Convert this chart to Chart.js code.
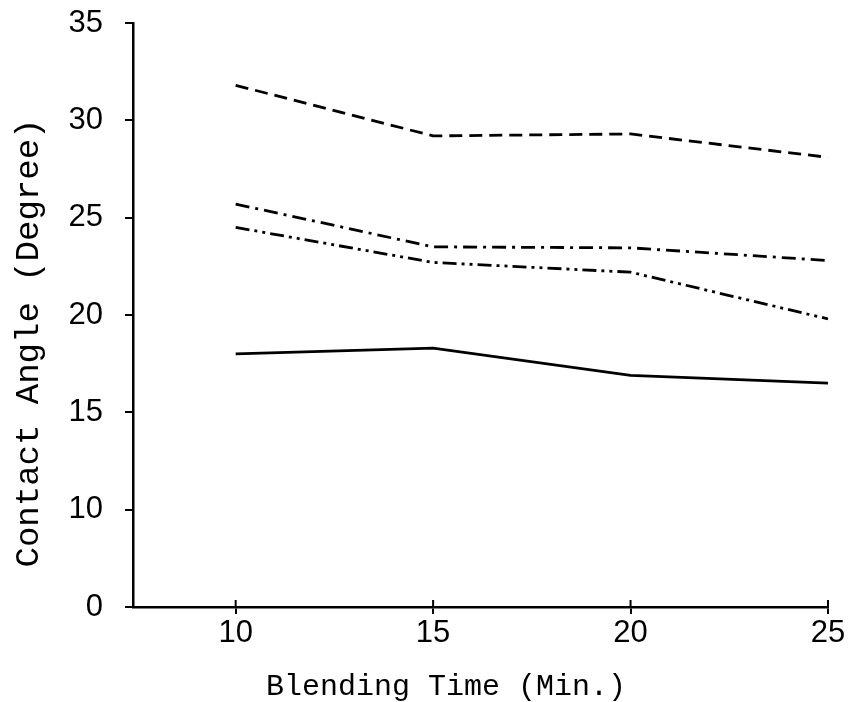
<!DOCTYPE html>
<html>
<head>
<meta charset="utf-8">
<script src="https://cdn.jsdelivr.net/npm/chart.js@4/dist/chart.umd.min.js"></script>
<style>
  html, body { margin: 0; padding: 0; background: #fff; }
  #wrap { width: 848px; height: 702px; }
</style>
</head>
<body>
<div id="wrap"><canvas id="chart"></canvas></div>
<script>
// blending time in minutes
const times = [10, 15, 20, 25];
const xTicks = [10, 15, 20, 25];

// contact angle readings, one array per curve
const dashedSeries = [31.8, 29.2, 29.3, 28.1];
const dashDotSeries = [25.7, 23.5, 23.45, 22.8];
const dashDotDotSeries = [24.5, 22.7, 22.2, 19.8];
const solidSeries = [18.0, 18.3, 16.9, 16.5];

// y axis is broken: the bottom tick (5) is labelled 0
const yMin = 5, yMax = 35;

const toPoints = (vals) => vals.map((v, i) => ({ x: times[i], y: v }));

const line = (label, vals, dash) => ({
  label,
  data: toPoints(vals),
  borderColor: '#000',
  borderWidth: 2.8,
  borderDash: dash,
  pointRadius: 0,
  fill: false,
  tension: 0,
});

// axis titles drawn at fixed spots, like the typed labels on the original,
// plus the short part of the x tick marks that pokes up above the axis
const axisTitles = {
  id: 'axisTitles',
  afterDraw(chart) {
    const ctx = chart.ctx;
    const xs = chart.scales.x;
    ctx.save();
    ctx.strokeStyle = '#000';
    ctx.lineWidth = 2;
    xTicks.forEach(v => {
      const px = xs.getPixelForValue(v);
      ctx.beginPath();
      ctx.moveTo(px, xs.top);
      ctx.lineTo(px, xs.top - 7);
      ctx.stroke();
    });
    ctx.fillStyle = '#000';
    ctx.textAlign = 'center';
    ctx.textBaseline = 'alphabetic';
    ctx.font = '30px "Liberation Mono"';
    ctx.fillText('Blending Time (Min.)', 446, 695);
    ctx.translate(38, 343);
    ctx.rotate(-Math.PI / 2);
    ctx.font = '34px "Liberation Mono"';
    ctx.fillText('Contact Angle (Degree)', 0, 0);
    ctx.restore();
  }
};

const ctx = document.getElementById('chart').getContext('2d');
new Chart(ctx, {
  type: 'line',
  data: {
    datasets: [
      line('A', dashedSeries, [13, 7]),
      line('B', dashDotSeries, [14, 6, 3, 6]),
      line('C', dashDotDotSeries, [14, 5, 3, 5, 3, 5]),
      line('D', solidSeries, []),
    ]
  },
  options: {
    responsive: true,
    maintainAspectRatio: false,
    animation: false,
    layout: { padding: { top: 23, right: 20, left: 0, bottom: 0 } },
    plugins: { legend: { display: false }, tooltip: { enabled: false } },
    scales: {
      x: {
        type: 'linear',
        min: 7.4,
        max: 25,
        afterBuildTicks: (scale) => { scale.ticks = xTicks.map(v => ({ value: v })); },
        afterFit: (scale) => { scale.height = 95; },
        border: { color: '#000', width: 2.5 },
        grid: { drawOnChartArea: false, color: '#000', lineWidth: 2, tickLength: 7 },
        ticks: { color: '#000', padding: 1, maxRotation: 0, font: { family: 'Liberation Sans', size: 31 } },
      },
      y: {
        min: yMin,
        max: yMax,
        afterFit: (scale) => {
          scale.width = 133;
          scale.paddingTop = 0;
          scale.paddingBottom = 0;
        },
        border: { color: '#000', width: 2.5 },
        grid: { drawOnChartArea: false, color: '#000', lineWidth: 2, tickLength: 8 },
        ticks: {
          stepSize: 5,
          color: '#000',
          padding: 22,
          font: { family: 'Liberation Sans', size: 31 },
          callback: (v) => (v === yMin ? '0' : v),
        },
      }
    }
  },
  plugins: [axisTitles]
});
</script>
</body>
</html>
